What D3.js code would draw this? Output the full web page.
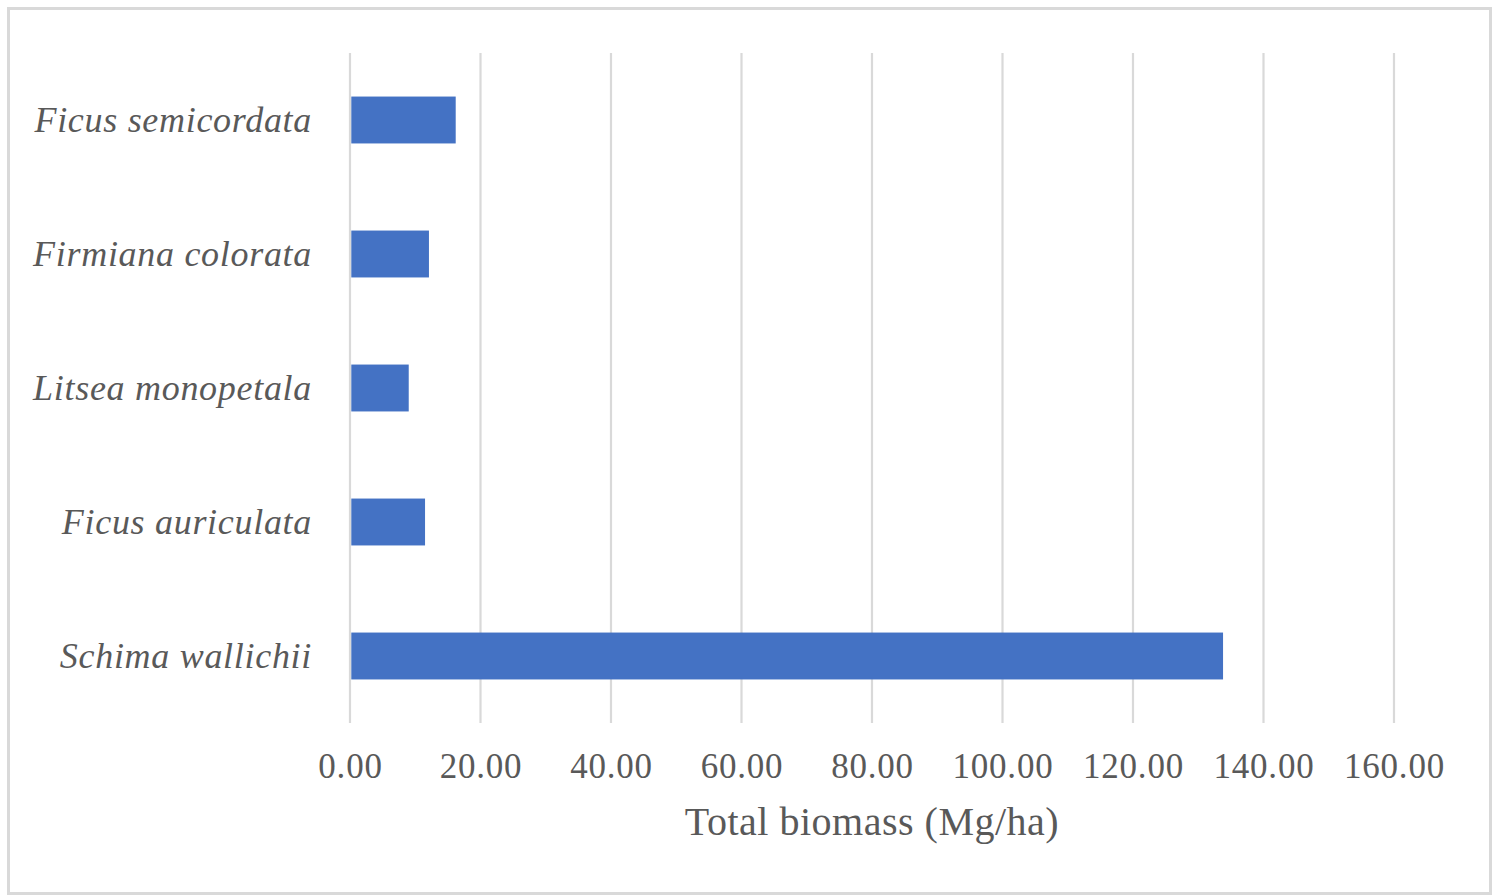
<!DOCTYPE html>
<html>
<head>
<meta charset="utf-8">
<script src="https://cdn.jsdelivr.net/npm/d3@7"></script>
<style>
  html, body { margin: 0; padding: 0; background: #fff; }
  svg { display: block; }
</style>
</head>
<body>
<svg id="chart" width="1499" height="896"></svg>
<script>
// Species, top to bottom
const species = [
  "Ficus semicordata",
  "Firmiana colorata",
  "Litsea monopetala",
  "Ficus auriculata",
  "Schima wallichii"
];
// Total biomass per species (Mg/ha)
const biomass = [16.2, 12.1, 9.0, 11.5, 133.8];
// Axis ticks
const tickValues = [0, 20, 40, 60, 80, 100, 120, 140, 160];
const axisTitle = "Total biomass (Mg/ha)";

const svg = d3.select("#chart");
const plot = { left: 350, right: 1394, top: 53, bottom: 723 };
const textColor = "#595959";
const gridColor = "#d9d9d9";
const barColor = "#4472c4";
const serif = "'Liberation Serif', 'Times New Roman', serif";

// Outer chart frame
svg.append("rect")
  .attr("x", 8.5).attr("y", 8.5)
  .attr("width", 1482).attr("height", 885)
  .attr("fill", "#fff")
  .attr("stroke", gridColor)
  .attr("stroke-width", 3);

const x = d3.scaleLinear().domain([0, 160]).range([plot.left, plot.right]);
const y = d3.scaleBand()
  .domain(species)
  .range([plot.top, plot.bottom])
  .paddingInner(0.65)
  .paddingOuter(0.325);

// Vertical gridlines
svg.append("g")
  .selectAll("line")
  .data(tickValues)
  .join("line")
  .attr("x1", d => x(d)).attr("x2", d => x(d))
  .attr("y1", plot.top).attr("y2", plot.bottom)
  .attr("stroke", gridColor)
  .attr("stroke-width", 2.2);

// Bars
const rows = species.map((s, i) => ({ name: s, value: biomass[i] }));
svg.append("g")
  .selectAll("rect")
  .data(rows)
  .join("rect")
  .attr("x", x(0) + 1.3)
  .attr("y", d => y(d.name))
  .attr("width", d => x(d.value) - x(0) - 1.3)
  .attr("height", y.bandwidth())
  .attr("fill", barColor);

// X axis tick labels
const xAxis = d3.axisBottom(x)
  .tickValues(tickValues)
  .tickFormat(d3.format(".2f"))
  .tickSize(0)
  .tickPadding(0);
const gx = svg.append("g")
  .attr("transform", `translate(0,${plot.bottom})`)
  .call(xAxis);
gx.select(".domain").remove();
gx.selectAll("text")
  .attr("y", 55)
  .attr("dy", 0)
  .attr("fill", textColor)
  .style("font-family", serif)
  .style("font-size", "35px")
  .style("letter-spacing", "0.8px");

// Y axis category labels
const yAxis = d3.axisLeft(y).tickSize(0).tickPadding(0);
const gy = svg.append("g")
  .attr("transform", `translate(312,0)`)
  .call(yAxis);
gy.select(".domain").remove();
gy.selectAll("text")
  .attr("x", 0)
  .attr("dy", "0.33em")
  .attr("fill", textColor)
  .style("font-family", serif)
  .style("font-style", "italic")
  .style("font-size", "36px")
  .style("letter-spacing", "0.7px");

// Axis title
svg.append("text")
  .attr("x", (plot.left + plot.right) / 2)
  .attr("y", 835)
  .attr("text-anchor", "middle")
  .attr("fill", textColor)
  .style("font-family", serif)
  .style("font-size", "40px")
  .style("letter-spacing", "0.5px")
  .text(axisTitle);
</script>
</body>
</html>
